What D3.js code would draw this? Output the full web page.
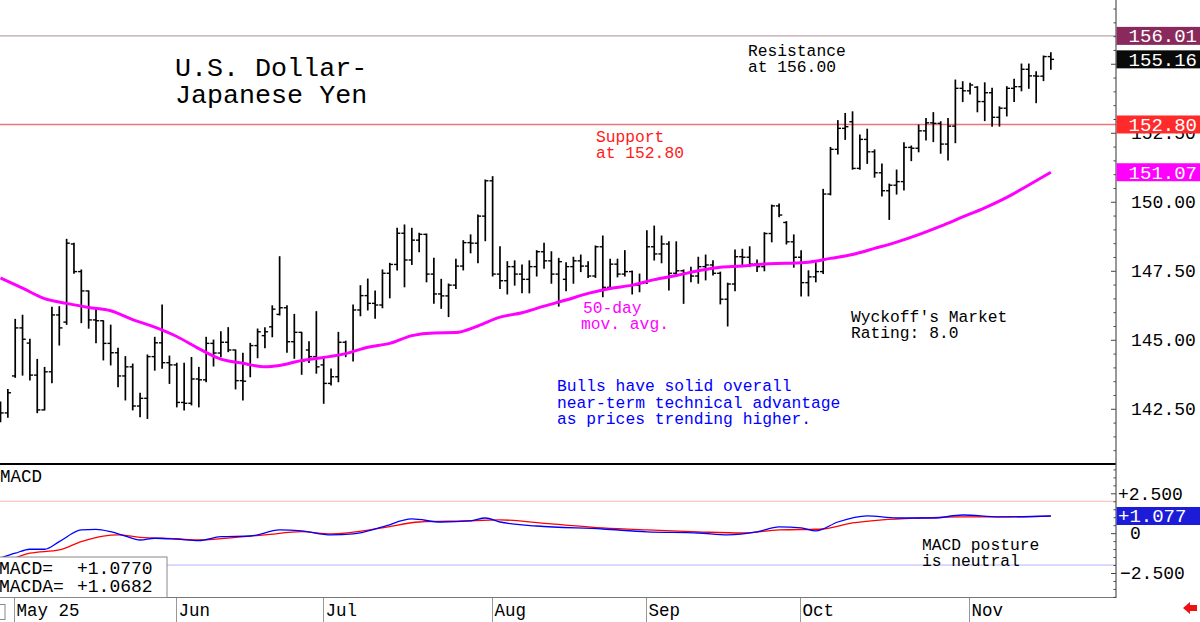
<!DOCTYPE html>
<html><head><meta charset="utf-8">
<script src="https://cdn.jsdelivr.net/npm/d3@7"></script>
<style>body{margin:0;background:#fff}svg{display:block}text{font-family:"Liberation Mono","DejaVu Sans Mono",monospace}</style>
</head><body><svg id="c" width="1200" height="622"></svg>
<script>
const openP=[142.67,142.35,143.69,145.43,144.88,143.72,142.46,143.84,145.90,145.64,148.47,147.47,146.77,145.72,145.69,144.87,144.53,143.69,144.02,142.60,142.88,144.39,144.89,144.17,144.09,142.73,142.70,143.58,143.55,144.87,144.52,144.91,144.63,143.52,144.09,144.79,145.15,145.47,145.92,146.16,144.93,145.27,144.63,144.39,144.09,143.42,143.66,144.91,144.55,146.08,146.60,146.32,146.26,147.41,147.73,148.86,147.89,148.61,148.82,147.38,146.66,146.59,146.98,147.67,148.52,148.50,149.48,150.76,147.38,147.14,147.65,147.38,147.19,147.65,148.19,147.86,147.38,147.19,147.65,147.86,147.67,147.31,148.37,146.90,147.74,147.38,147.47,146.98,147.07,148.37,148.11,148.47,147.41,147.50,147.41,147.31,147.65,147.71,147.41,146.47,147.02,148.01,147.99,147.74,147.65,148.85,149.85,149.25,148.55,147.99,147.07,147.28,147.47,150.28,151.90,152.66,152.90,151.21,152.26,151.81,151.05,150.40,150.60,150.73,151.97,151.94,152.57,152.86,152.84,152.09,152.74,154.11,154.02,154.15,153.63,153.95,153.06,153.39,154.11,154.17,154.80,154.56,154.55,155.26];
const highP=[142.75,143.20,145.74,145.89,145.02,144.29,144.00,146.18,146.20,148.64,148.50,147.53,146.77,146.10,145.69,145.53,144.69,144.39,144.12,143.06,144.45,145.09,146.26,144.41,144.15,144.15,144.36,144.00,145.09,144.99,145.29,145.44,144.63,144.51,144.87,145.39,145.44,146.23,148.01,146.23,145.92,145.27,144.93,146.02,144.35,143.94,145.27,144.95,146.26,146.96,147.20,146.77,147.53,147.77,149.04,149.16,149.04,148.86,148.83,147.95,147.19,147.02,147.92,148.59,148.80,149.52,150.79,150.91,148.37,147.83,147.86,147.71,147.86,148.23,148.50,148.19,147.95,147.79,147.99,148.07,147.83,148.40,148.76,147.92,147.92,148.23,147.49,147.38,148.95,149.12,148.76,148.55,148.55,147.53,147.63,147.99,148.07,147.86,147.45,147.05,148.25,148.28,148.37,147.89,148.88,149.88,149.92,149.28,148.80,148.23,147.50,147.79,150.45,151.97,152.94,153.20,153.26,152.42,152.63,151.88,151.37,150.64,151.15,152.14,152.02,152.78,153.02,153.23,152.90,153.02,154.41,154.35,154.29,154.17,154.31,154.11,153.44,154.17,154.44,154.99,154.99,154.71,155.28,155.40];
const lowP=[142.03,142.19,143.64,143.72,143.54,142.36,142.46,143.44,144.81,145.56,147.41,145.62,145.42,144.89,144.27,144.09,143.30,142.82,142.46,142.21,142.15,143.90,143.97,143.42,142.57,142.46,142.64,142.57,143.48,144.05,144.39,144.57,143.22,142.82,143.66,144.35,144.71,145.11,145.90,144.55,144.33,143.75,144.18,143.79,142.70,143.36,143.48,144.39,144.23,145.87,146.08,145.78,146.16,146.52,147.53,146.92,147.73,148.19,147.10,146.32,146.14,145.84,146.86,147.53,148.15,147.79,148.59,147.31,146.86,146.66,146.98,146.70,146.70,147.31,147.59,147.05,146.22,146.78,147.05,147.47,147.26,147.26,146.56,146.83,147.28,147.31,146.66,146.74,147.04,147.89,147.79,146.80,147.31,146.32,147.10,147.05,147.17,147.35,146.30,145.50,146.78,147.65,147.65,147.47,147.50,148.55,149.46,148.47,147.63,146.59,146.59,147.10,147.40,150.25,151.73,152.26,151.18,151.18,151.39,150.89,150.21,149.36,150.28,150.43,151.49,151.81,152.24,152.18,151.76,151.51,152.14,153.63,153.90,153.26,152.94,152.74,152.74,153.11,153.63,154.02,154.11,153.59,154.39,154.80];
const closeP=[142.35,143.08,145.43,145.02,143.72,142.46,143.84,145.90,145.43,148.50,147.47,146.77,145.72,145.69,144.87,144.53,143.69,144.02,142.60,142.88,144.39,144.89,144.17,144.09,142.73,142.70,143.58,143.55,144.87,144.52,144.91,144.63,143.52,143.50,144.79,145.29,145.29,146.11,146.16,144.93,145.27,144.23,144.39,144.02,143.42,143.66,144.91,144.51,146.08,146.60,146.32,146.26,147.41,147.73,148.86,147.89,148.61,148.82,147.38,146.66,146.59,146.98,147.67,148.52,148.50,149.48,150.76,147.38,147.14,147.65,147.38,147.19,147.65,148.19,147.86,147.38,147.83,147.65,147.86,147.67,147.31,148.37,146.90,147.74,147.38,147.47,146.98,147.07,148.37,148.11,148.47,147.41,147.50,147.41,147.31,147.65,147.71,147.41,146.47,147.02,148.01,147.99,147.74,147.65,148.85,149.85,149.52,148.55,147.99,147.07,147.28,147.47,150.28,151.90,152.66,152.72,151.21,152.26,151.81,151.05,150.40,150.60,150.73,151.97,151.94,152.57,152.86,152.84,152.09,152.74,154.11,154.02,154.23,153.63,153.95,153.06,153.39,154.11,154.17,154.80,154.56,154.55,155.26,155.16];

const maIdx=[0,3,6,9,12,15,18,21,24,27,30,33,36,38,41,44,47,50,53,56,59,62,65,68,71,74,77,80,83,86,89,92,95,98,101,104,107,110,113,116,119,122,125,128,131,134,137,140,143];
const maVal=[147.24,146.87,146.49,146.32,146.17,146.05,145.73,145.46,145.12,144.68,144.30,144.15,144.02,144.07,144.25,144.36,144.50,144.73,144.87,145.15,145.25,145.26,145.50,145.82,145.98,146.22,146.44,146.68,146.86,146.98,147.18,147.33,147.50,147.63,147.67,147.75,147.77,147.81,147.95,148.09,148.31,148.54,148.81,149.12,149.45,149.78,150.16,150.61,151.07];

const macdIdx=[0,2,4,6,8,11,13,15,17,19,21,24,27,30,34,38,41,45,48,52,56,60,64,66,68,73,82,88,95,99,103,106,109,111,114,118,122,127,131,136,143];
const macdVal=[-1.56,-1.26,-1.01,-1.01,-0.53,0.20,0.24,0.09,-0.18,-0.43,-0.32,-0.38,-0.47,-0.22,-0.18,0.20,0.14,-0.11,-0.05,0.39,0.89,0.70,0.77,0.95,0.70,0.45,0.26,0.08,0.01,-0.11,0.08,0.39,0.33,0.14,0.70,1.08,0.95,0.95,1.14,1.02,1.077];
const sigIdx=[1,4,8,11,14,16,19,24,27,32,36,41,45,52,57,63,68,75,82,88,95,101,106,112,116,120,125,131,136,143];
const sigVal=[-1.75,-1.26,-1.05,-0.53,-0.18,-0.11,-0.26,-0.35,-0.43,-0.26,-0.11,0.09,-0.05,0.33,0.70,0.77,0.83,0.58,0.33,0.20,0.08,0.01,0.20,0.26,0.64,0.83,0.95,1.02,1.02,1.068];

const monthIdx=[2,24,44,67,88,109,132];
const monthLabels=["May 25","Jun","Jul","Aug","Sep","Oct","Nov"];
const priceTicks=[142.5,145,147.5,150,152.5,155];
const priceLabelTicks=[142.5,145,147.5,150,152.5];
const macdTicks=[2.5,0,-2.5];
const resistance=156.01, support=152.80, lastClose=155.16, lastMA=151.07;
const lastMACD=1.077, legendMACD="+1.0770", legendMACDA="+1.0682";

const svg=d3.select("#c");
const AX=1116;
const x=d3.scaleLinear().domain([-0.07,151.87]).range([0,AX]);
const y=d3.scaleLinear().domain([140.5,157.31]).range([464,0]);
const ym=d3.scaleLinear().domain([-4.07,4.34]).range([598,464]);

// reference lines
svg.append("line").attr("x1",0).attr("x2",AX).attr("y1",y(resistance)).attr("y2",y(resistance)).attr("stroke","#bfa2ac").attr("stroke-width",1.3);
svg.append("line").attr("x1",0).attr("x2",AX).attr("y1",y(support)).attr("y2",y(support)).attr("stroke","#f07474").attr("stroke-width",1.3);
svg.append("line").attr("x1",0).attr("x2",AX).attr("y1",ym(2)).attr("y2",ym(2)).attr("stroke","#ffb4b4").attr("stroke-width",1);
svg.append("line").attr("x1",0).attr("x2",AX).attr("y1",ym(-2)).attr("y2",ym(-2)).attr("stroke","#b4b4ff").attr("stroke-width",1);

// text annotations
function txt(lines,x0,y0,dy,size,color){
  const t=svg.append("text").attr("x",x0).attr("y",y0).attr("font-size",size).attr("fill",color);
  lines.forEach((l,i)=>t.append("tspan").attr("x",x0).attr("y",y0+i*dy).text(l));
  return t;
}
txt(["U.S. Dollar-","Japanese Yen"],175,76,26.5,"26.7px","#000");
txt(["Resistance","at 156.00"],748,56,16,"16.3px","#000");
txt(["Support","at 152.80"],596,142,16,"16.3px","#ff1a1a");
txt(["50-day"],583,313,16,"16.3px","#ff00ff");
txt(["mov. avg."],581,329,16,"16.3px","#ff00ff");
txt(["Wyckoff's Market","Rating: 8.0"],851,322,16,"16.3px","#000");
txt(["Bulls have solid overall","near-term technical advantage","as prices trending higher."],557,391,16.5,"16.3px","#0000ff");
txt(["MACD"],0,482,16,"17.5px","#000");
txt(["MACD posture","is neutral"],922,550,15.5,"16.3px","#000");

// bars
const idx=d3.range(openP.length);
const bars=svg.append("g").attr("stroke","#000").attr("stroke-width",1.7);
idx.forEach(i=>{
  const xi=x(i);
  bars.append("line").attr("x1",xi).attr("x2",xi).attr("y1",y(highP[i])-0.5).attr("y2",y(lowP[i])+0.5);
  bars.append("line").attr("x1",xi-3.2).attr("x2",xi).attr("y1",y(openP[i])).attr("y2",y(openP[i])).attr("stroke-width",1.4);
  bars.append("line").attr("x1",xi).attr("x2",xi+3.2).attr("y1",y(closeP[i])).attr("y2",y(closeP[i])).attr("stroke-width",1.4);
});

// moving average
const maLine=d3.line().x(d=>x(d[0])).y(d=>y(d[1])).curve(d3.curveMonotoneX);
svg.append("path").datum(maIdx.map((d,i)=>[d,maVal[i]])).attr("d",maLine).attr("fill","none").attr("stroke","#ff00ff").attr("stroke-width",3);

// MACD lines
const mLine=d3.line().x(d=>x(d[0])).y(d=>ym(d[1])).curve(d3.curveMonotoneX);
svg.append("path").datum(sigIdx.map((d,i)=>[d,sigVal[i]])).attr("d",mLine).attr("fill","none").attr("stroke","#ff0000").attr("stroke-width",1.3);
svg.append("path").datum(macdIdx.map((d,i)=>[d,macdVal[i]])).attr("d",mLine).attr("fill","none").attr("stroke","#0000ff").attr("stroke-width",1.3);

// panel borders
svg.append("line").attr("x1",0).attr("x2",AX).attr("y1",464).attr("y2",464).attr("stroke","#000").attr("stroke-width",2);
svg.append("line").attr("x1",0).attr("x2",AX).attr("y1",597.5).attr("y2",597.5).attr("stroke","#777").attr("stroke-width",1.2);

// legend box
svg.append("rect").attr("x",-1).attr("y",557).attr("width",168).attr("height",40.5).attr("fill","#fff").attr("stroke","#888").attr("stroke-width",1);
txt(["MACD=","MACDA="],-1,573.5,18.5,"18px","#000");
txt([legendMACD,legendMACDA],77,573.5,18.5,"18px","#000");

// right axis: ticks
const minorMain=d3.range(141,157.3,0.5).filter(v=>!priceTicks.includes(v));
const axG=svg.append("g").attr("transform",`translate(${AX},0)`);
axG.append("g").call(d3.axisLeft(y).tickValues(minorMain).tickSize(2.5).tickSizeOuter(0).tickFormat(""));
axG.append("g").call(d3.axisLeft(y).tickValues(priceTicks).tickSize(5).tickSizeOuter(0).tickFormat(""));
const minorM=d3.range(-4,4.3,0.5).filter(v=>!macdTicks.includes(v));
axG.append("g").call(d3.axisLeft(ym).tickValues(minorM).tickSize(2.5).tickSizeOuter(0).tickFormat(""));
axG.append("g").call(d3.axisLeft(ym).tickValues(macdTicks).tickSize(5).tickSizeOuter(0).tickFormat(""));
axG.selectAll(".domain").remove();
axG.selectAll(".tick line").attr("stroke","#444").attr("stroke-width",1);
axG.append("line").attr("x1",0).attr("x2",0).attr("y1",0).attr("y2",598).attr("stroke","#555").attr("stroke-width",1.2);

// price labels
const pl=axG.append("g").call(d3.axisRight(y).tickValues(priceLabelTicks).tickSize(0).tickPadding(15).tickFormat(d3.format(".2f")));
pl.select(".domain").remove();
pl.selectAll("text").attr("font-size","18px").attr("font-family","Liberation Mono").attr("fill","#000");
// macd labels
const mfmt=d=>d===0?"0":(d>0?"+":"")+d3.format(".3f")(d);
const ml=axG.append("g").call(d3.axisRight(ym).tickValues(macdTicks).tickSize(0).tickPadding(2).tickFormat(mfmt));
ml.select(".domain").remove();
ml.selectAll("text").attr("font-size","18px").attr("font-family","Liberation Mono").attr("fill","#000").attr("x",d=>d===0?14:(d<0?4:2));

// boxed value labels
function box(yy,label,fill){
  svg.append("rect").attr("x",AX+0.5).attr("y",yy-9).attr("width",1200-AX).attr("height",18).attr("fill",fill);
  svg.append("text").attr("x",1197).attr("y",yy+6.5).attr("text-anchor","end").attr("font-size","19px").attr("fill","#fff").text(label);
}
box(y(resistance),d3.format(".2f")(resistance),"#8a2a5c");
box(y(lastClose),d3.format(".2f")(lastClose),"#0a0a0a");
box(y(support),d3.format(".2f")(support),"#ff2a2a");
box(y(lastMA),d3.format(".2f")(lastMA),"#ff00ff");
svg.append("rect").attr("x",AX+0.5).attr("y",ym(lastMACD)-9).attr("width",1200-AX).attr("height",18).attr("fill","#1c1cd8");
svg.append("text").attr("x",1118).attr("y",ym(lastMACD)+6.5).attr("font-size","19px").attr("fill","#fff").text("+"+d3.format(".3f")(lastMACD));

// x axis row
const xr=svg.append("g");
monthIdx.forEach((m,i)=>{
  const xm=Math.round(x(m))-0.5;
  xr.append("line").attr("x1",xm).attr("x2",xm).attr("y1",598).attr("y2",622).attr("stroke","#999").attr("stroke-width",1);
  xr.append("text").attr("x",xm+2).attr("y",616).attr("font-size","17.5px").attr("fill","#000").text(monthLabels[i]);
});
svg.append("rect").attr("x",-6).attr("y",604.5).attr("width",11).attr("height",15).attr("fill","none").attr("stroke","#888");
// red arrow
svg.append("path").attr("d","M1183,608 L1190,602 L1190,605 L1197,605 L1197,611 L1190,611 L1190,614 Z").attr("fill","#ee1111");
</script></body></html>
